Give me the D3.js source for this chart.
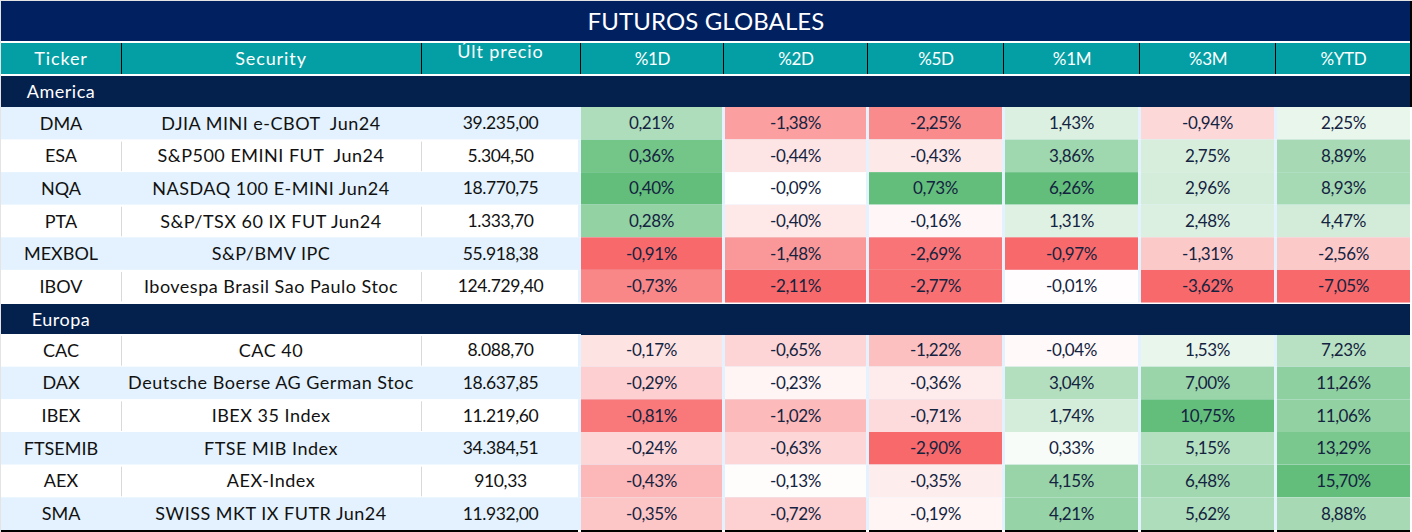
<!DOCTYPE html>
<html lang="es">
  <head>
    <meta charset="UTF-8" />
    <title>Futuros globales</title>
    <script src="https://d3js.org/d3.v7.min.js"></script>
    <style>
      * {
        margin: 0;
        padding: 0;
      }

      body {
        background: #e4e4e4;
        overflow: hidden;
      }

      svg {
        display: block;
      }

      text {
        font-family: "Lato", sans-serif;
        text-anchor: middle;
        dominant-baseline: central;
        white-space: pre;
      }
    </style>
  </head>

  <body></body>

  <script>
    const title = "FUTUROS GLOBALES";
    const headers = ["Ticker", "Security", "Últ precio", "%1D", "%2D", "%5D", "%1M", "%3M", "%YTD"];

    const americaTickers = ["DMA", "ESA", "NQA", "PTA", "MEXBOL", "IBOV"];
    const americaNames = [
      "DJIA MINI e-CBOT  Jun24",
      "S&P500 EMINI FUT  Jun24",
      "NASDAQ 100 E-MINI Jun24",
      "S&P/TSX 60 IX FUT Jun24",
      "S&P/BMV IPC",
      "Ibovespa Brasil Sao Paulo Stoc",
    ];
    const americaPrices = ["39.235,00", "5.304,50", "18.770,75", "1.333,70", "55.918,38", "124.729,40"];

    const europaTickers = ["CAC", "DAX", "IBEX", "FTSEMIB", "AEX", "SMA"];
    const europaNames = [
      "CAC 40",
      "Deutsche Boerse AG German Stoc",
      "IBEX 35 Index",
      "FTSE MIB Index",
      "AEX-Index",
      "SWISS MKT IX FUTR Jun24",
    ];
    const europaPrices = ["8.088,70", "18.637,85", "11.219,60", "34.384,51", "910,33", "11.932,00"];

    // una fila por ticker, una columna por periodo
    const americaPct = [
      [0.21, -1.38, -2.25, 1.43, -0.94, 2.25],
      [0.36, -0.44, -0.43, 3.86, 2.75, 8.89],
      [0.4, -0.09, 0.73, 6.26, 2.96, 8.93],
      [0.28, -0.4, -0.16, 1.31, 2.48, 4.47],
      [-0.91, -1.48, -2.69, -0.97, -1.31, -2.56],
      [-0.73, -2.11, -2.77, -0.01, -3.62, -7.05],
    ];
    const europaPct = [
      [-0.17, -0.65, -1.22, -0.04, 1.53, 7.23],
      [-0.29, -0.23, -0.36, 3.04, 7.0, 11.26],
      [-0.81, -1.02, -0.71, 1.74, 10.75, 11.06],
      [-0.24, -0.63, -2.9, 0.33, 5.15, 13.29],
      [-0.43, -0.13, -0.35, 4.15, 6.48, 15.7],
      [-0.35, -0.72, -0.19, 4.21, 5.62, 8.88],
    ];

    let w = 1412;
    let h = 532;

    // bordes de columna
    const edges = [1, 121, 421, 580, 723, 867, 1003, 1139, 1275, 1410];
    const navy = "#012060";
    const teal = "#049fa5";
    const band = "#04204d";
    const stripe = "#e3f2fe";

    let svg = d3.select("body").append("svg").attr("width", w).attr("height", h);

    svg.append("rect").attr("x", 1).attr("y", 1).attr("width", 1411).attr("height", 531).attr("fill", "#fff");

    let fmtPct = (v) => v.toFixed(2).replace(".", ",") + "%";

    // escala de color por columna: rojo en el minimo, blanco en 0, verde en el maximo
    let allPct = americaPct.concat(europaPct);
    let colorScales = d3.range(6).map((c) => {
      let vals = allPct.map((r) => r[c]);
      let min = d3.min(vals);
      let max = d3.max(vals);
      return max > 0
        ? d3.scaleLinear().domain([min, 0, max]).range(["#f8696b", "#ffffff", "#63be7b"])
        : d3.scaleLinear().domain([min, max]).range(["#f8696b", "#ffffff"]);
    });

    // titulo
    svg.append("rect").attr("x", 1).attr("y", 1).attr("width", 1409).attr("height", 40).attr("fill", navy);
    svg
      .append("text")
      .attr("x", 706)
      .attr("y", 20)
      .attr("fill", "#fff")
      .style("font-size", "24px")
      .style("letter-spacing", "0.1px")
      .text(title);

    // cabecera
    svg.append("rect").attr("x", 1).attr("y", 43).attr("width", 1409).attr("height", 31).attr("fill", teal);
    svg
      .selectAll(".head")
      .data(headers)
      .enter()
      .append("text")
      .attr("class", "head")
      .attr("x", (d, i) => (edges[i] + edges[i + 1]) / 2 + (i > 2 ? 1 : 0))
      .attr("y", (d, i) => (i == 2 ? 51 : 58))
      .attr("fill", "#fff")
      .style("font-size", (d, i) => (i < 3 ? "18px" : "17px"))
      .style("letter-spacing", (d, i) => (i < 3 ? "0.9px" : "-0.3px"))
      .text((d) => d);

    // separadores de cabecera y de la banda America
    svg.append("rect").attr("x", 1).attr("y", 76).attr("width", 1409).attr("height", 31).attr("fill", band);
    svg
      .selectAll(".sep")
      .data(edges.slice(1, -1))
      .enter()
      .append("path")
      .attr("class", "sep")
      .attr("d", (d) => `M${d + 0.5},43V74M${d + 0.5},76V107`)
      .attr("stroke", "#000")
      .attr("fill", "none");

    // borde derecho de la parte de arriba
    svg.append("rect").attr("x", 1410).attr("y", 1).attr("width", 2).attr("height", 106).attr("fill", "#000");

    function drawRegion(name, bandY, y0, y1, tickers, names, prices, pct, firstStripe) {
      svg.append("rect").attr("x", 1).attr("y", bandY).attr("width", 1409).attr("height", 31).attr("fill", band);
      svg
        .append("text")
        .attr("x", 61)
        .attr("y", bandY + 15)
        .attr("fill", "#fff")
        .style("font-size", "18px")
        .style("letter-spacing", "0.5px")
        .text(name);

      let y = d3.scaleBand().domain(tickers).range([y0, y1]);

      let row = svg
        .append("g")
        .selectAll("g")
        .data(tickers)
        .enter()
        .append("g")
        .attr("transform", (d) => `translate(0,${y(d)})`);

      row
        .append("rect")
        .attr("x", 1)
        .attr("width", 577)
        .attr("height", y.bandwidth())
        .attr("fill", (d, i) => (i % 2 == firstStripe ? stripe : "#fff"));
      row
        .append("rect")
        .attr("x", 578)
        .attr("width", 832)
        .attr("height", y.bandwidth())
        .attr("fill", stripe);
      row
        .append("path")
        .attr("d", `M121.5,2V${y.bandwidth() - 1}M421.5,2V${y.bandwidth() - 1}`)
        .attr("stroke", (d, i) => (i % 2 == firstStripe ? stripe : "#d9d9d9"));

      let left = [tickers, names, prices];
      left.forEach((col, c) => {
        row
          .append("text")
          .attr("x", (edges[c] + edges[c + 1]) / 2)
          .attr("y", y.bandwidth() / 2 - 0.5)
          .attr("fill", "#111")
          .style("font-size", c == 2 ? "17.5px" : "18px")
          .style("letter-spacing", c == 1 ? "0.5px" : c == 2 ? "-0.4px" : "0")
          .text((d, i) => col[i]);
      });

      d3.range(6).forEach((c) => {
        let x0 = edges[c + 3] + (c == 0 ? 1 : 2);
        let x1 = c == 5 ? edges[c + 4] : edges[c + 4] - 1;
        row
          .append("rect")
          .attr("x", x0)
          .attr("width", x1 - x0)
          .attr("height", y.bandwidth())
          .attr("fill", (d, i) => colorScales[c](pct[i][c]));
        row
          .append("text")
          .attr("x", (x0 + x1) / 2)
          .attr("y", y.bandwidth() / 2 - 0.5)
          .attr("fill", "#14233f")
          .style("font-size", "17px")
          .style("letter-spacing", "-0.4px")
          .text((d, i) => fmtPct(pct[i][c]));
      });
    }

    drawRegion("America", 76, 107, 302.5, americaTickers, americaNames, americaPrices, americaPct, 0);
    drawRegion("Europa", 304, 334, 530, europaTickers, europaNames, europaPrices, europaPct, 1);

    // la banda Europa baja un pixel sobre las celdas de color
    svg.append("rect").attr("x", 581).attr("y", 334).attr("width", 829).attr("height", 1).attr("fill", band);

    // linea inferior, cortada en los huecos entre columnas
    svg
      .selectAll(".foot")
      .data(d3.range(7))
      .enter()
      .append("rect")
      .attr("class", "foot")
      .attr("x", (d) => (d == 0 ? 1 : edges[d + 2] + (d == 1 ? 1 : 2)))
      .attr("y", 530)
      .attr("width", (d) => {
        if (d == 0) return 577;
        let x0 = edges[d + 2] + (d == 1 ? 1 : 2);
        return (d == 6 ? edges[d + 3] : edges[d + 3] - 1) - x0;
      })
      .attr("height", 2)
      .attr("fill", "#000");
  </script>
</html>
